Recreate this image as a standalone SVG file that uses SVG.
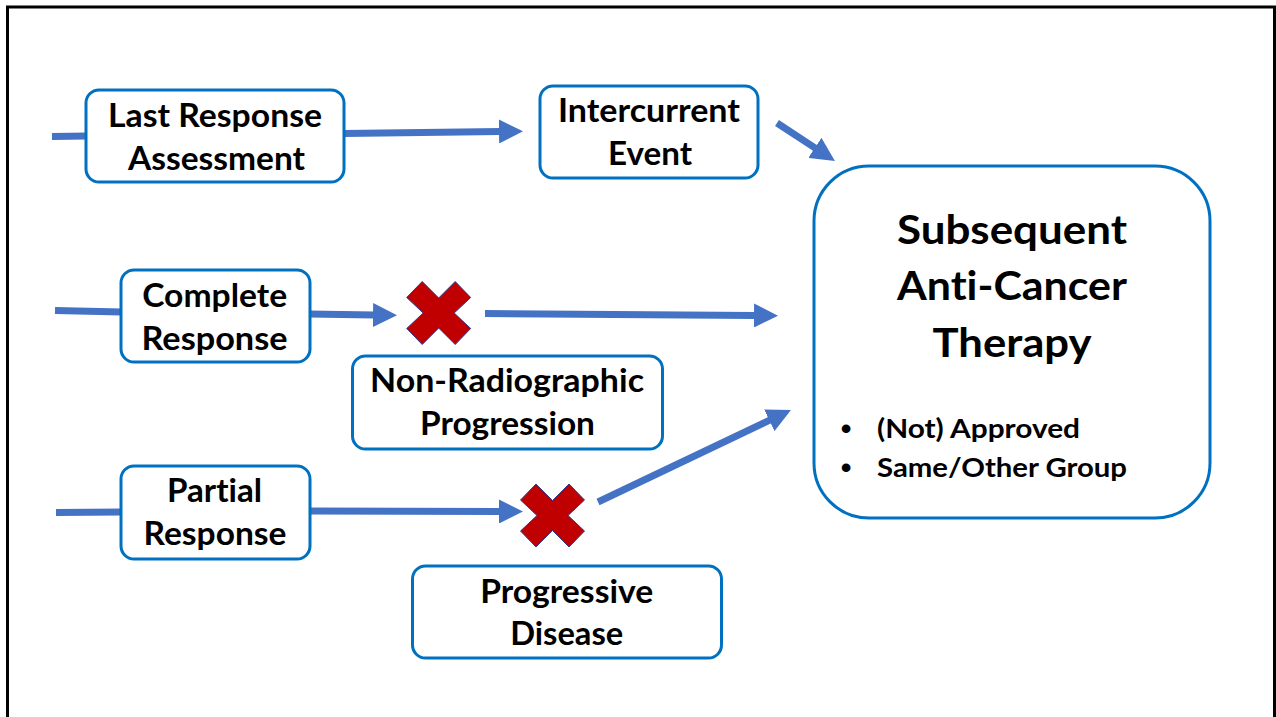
<svg xmlns="http://www.w3.org/2000/svg" width="1276" height="717" viewBox="0 0 1276 717">
  <style>
    .box { fill: #ffffff; stroke: #0070C0; stroke-width: 3; }
    .lbl { font-family: Lato, "Open Sans", "Liberation Sans", sans-serif; font-weight: bold; font-size: 32px; fill: #000000; text-anchor: middle; font-variant-ligatures: none; font-feature-settings: "liga" 0, "clig" 0, "dlig" 0, "calt" 0; }
    .big { font-size: 40px; }
    .bul { font-size: 27px; text-anchor: start; }
    .dot { font-family: "Liberation Sans", sans-serif; font-size: 32px; fill: #000000; text-anchor: middle; }
    .conn { stroke: #4472C4; stroke-width: 7; fill: none; }
    .xmark { fill: #C00000; stroke: #2F3A8F; stroke-width: 1; }
  </style>
  <defs>
    <marker id="ah" viewBox="0 0 24 24" markerWidth="24" markerHeight="24" refX="1" refY="12" orient="auto" markerUnits="userSpaceOnUse">
      <path d="M0,0 L24,12 L0,24 z" fill="#4472C4"/>
    </marker>
    <polygon id="xshape" points="-32,-15.5 -16.5,-31.5 0,-15 16.5,-31.5 32,-15.5 15.5,0 32,15.5 16.5,31.5 0,15 -16.5,31.5 -32,15.5 -15.5,0"/>
  </defs>

  <rect width="1276" height="717" fill="#ffffff"/>
  <path d="M7.5,717 V7 H1274.5 V717" fill="none" stroke="#000000" stroke-width="3"/>

  <g id="connectors">
    <line class="conn" x1="52" y1="136.5" x2="87" y2="136"/>
    <line class="conn" x1="344" y1="133.5" x2="500" y2="131.5" marker-end="url(#ah)"/>
    <line class="conn" x1="777" y1="123" x2="815.7" y2="148.4" marker-end="url(#ah)"/>
    <line class="conn" x1="55" y1="310.5" x2="122" y2="312"/>
    <line class="conn" x1="309" y1="314" x2="374" y2="315" marker-end="url(#ah)"/>
    <line class="conn" x1="485" y1="313.5" x2="755" y2="315.5" marker-end="url(#ah)"/>
    <line class="conn" x1="56" y1="512.5" x2="122" y2="512"/>
    <line class="conn" x1="309" y1="511" x2="500" y2="511.5" marker-end="url(#ah)"/>
    <line class="conn" x1="598" y1="502" x2="770.2" y2="419.9" marker-end="url(#ah)"/>
  </g>

  <g id="x1"><use href="#xshape" class="xmark" x="438.7" y="313"/></g>
  <g id="x2"><use href="#xshape" class="xmark" x="552.5" y="515.5"/></g>

  <g id="last-response">
    <rect class="box" x="86" y="90" width="258" height="92" rx="13"/>
    <text class="lbl" x="215" y="127" textLength="214" lengthAdjust="spacingAndGlyphs">Last Response</text>
    <text class="lbl" x="216.5" y="170" textLength="177" lengthAdjust="spacingAndGlyphs">Assessment</text>
  </g>

  <g id="intercurrent">
    <rect class="box" x="540" y="86" width="218" height="92" rx="13"/>
    <text class="lbl" x="649" y="121.7" textLength="182" lengthAdjust="spacingAndGlyphs">Intercurrent</text>
    <text class="lbl" x="650" y="165" textLength="84" lengthAdjust="spacingAndGlyphs">Event</text>
  </g>

  <g id="complete">
    <rect class="box" x="121" y="270" width="189" height="92" rx="13"/>
    <text class="lbl" x="214.7" y="307" textLength="145" lengthAdjust="spacingAndGlyphs">Complete</text>
    <text class="lbl" x="214.5" y="350" textLength="146" lengthAdjust="spacingAndGlyphs">Response</text>
  </g>

  <g id="non-radiographic">
    <rect class="box" x="352.5" y="356" width="310" height="93" rx="13"/>
    <text class="lbl" x="507" y="392" textLength="274" lengthAdjust="spacingAndGlyphs">Non-Radiographic</text>
    <text class="lbl" x="507.5" y="435" textLength="175" lengthAdjust="spacingAndGlyphs">Progression</text>
  </g>

  <g id="partial">
    <rect class="box" x="121" y="466" width="189" height="93" rx="13"/>
    <text class="lbl" x="214.5" y="502" textLength="95" lengthAdjust="spacingAndGlyphs">Partial</text>
    <text class="lbl" x="215" y="545" textLength="143" lengthAdjust="spacingAndGlyphs">Response</text>
  </g>

  <g id="progressive">
    <rect class="box" x="412.5" y="566" width="309" height="92" rx="13"/>
    <text class="lbl" x="566.7" y="603" textLength="173" lengthAdjust="spacingAndGlyphs">Progressive</text>
    <text class="lbl" x="566.7" y="645" textLength="113" lengthAdjust="spacingAndGlyphs">Disease</text>
  </g>

  <g id="subsequent">
    <rect class="box" x="814" y="166" width="396" height="352" rx="55"/>
    <text class="lbl big" x="1012" y="244" textLength="230" lengthAdjust="spacingAndGlyphs">Subsequent</text>
    <text class="lbl big" x="1012" y="300" textLength="230" lengthAdjust="spacingAndGlyphs">Anti-Cancer</text>
    <text class="lbl big" x="1012" y="357" textLength="159" lengthAdjust="spacingAndGlyphs">Therapy</text>
    <text class="dot" x="846" y="439">•</text>
    <text class="lbl bul" x="877" y="438" textLength="203" lengthAdjust="spacingAndGlyphs">(Not) Approved</text>
    <text class="dot" x="846" y="477.5">•</text>
    <text class="lbl bul" x="877" y="476.5" textLength="250" lengthAdjust="spacingAndGlyphs">Same/Other Group</text>
  </g>
</svg>
